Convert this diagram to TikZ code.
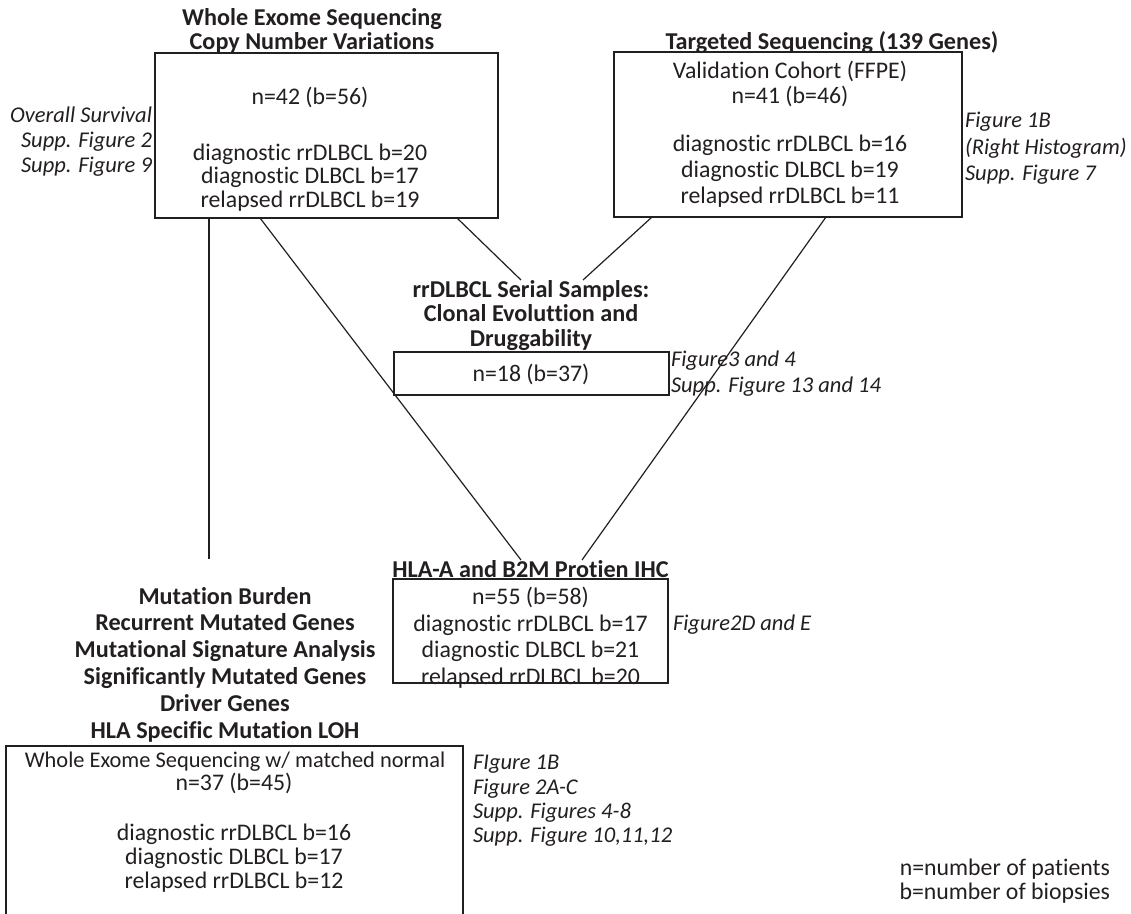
\documentclass[tikz,border=0pt]{standalone}
\usepackage{fontspec}
\setmainfont{Carlito}[Ligatures={NoCommon}]
\definecolor{ink}{HTML}{231F20}
\begin{document}
\begin{tikzpicture}[x=1pt,y=-1pt,
  every node/.style={inner sep=0pt, outer sep=0pt, text=ink},
  boxstyle/.style={draw=ink, line width=1.2pt, rectangle},
  conn/.style={draw=ink, line width=1.2pt},
  reg/.style={font=\fontsize{23.8}{25}\selectfont, anchor=base},
  hd/.style={font=\fontsize{24.2}{25}\selectfont\bfseries, anchor=base},
  itl/.style={font=\fontsize{22.5}{24}\selectfont\itshape, anchor=base west},
  itr/.style={font=\fontsize{22.5}{24}\selectfont\itshape, anchor=base east}]
\useasboundingbox (0,0) rectangle (1131,913);
\fill[white] (0,0) rectangle (1131,913);

% ---- Box 1: WES / CNV
\node[boxstyle, minimum width=343pt, minimum height=165pt] (b1) at (326.5,135.5) {};
\node[hd] (t1a) at (312,25) {Whole Exome Sequencing};
\node[hd] (t1b) at (312,49) {Copy Number Variations};
\node[reg] (b1l1) at (310,104) {n=42 (b=56)};
\node[reg] (b1l2) at (310,160) {diagnostic rrDLBCL b=20};
\node[reg] (b1l3) at (310,183) {diagnostic DLBCL b=17};
\node[reg] (b1l4) at (310,207) {relapsed rrDLBCL b=19};
\node[itr] (s1a) at (152,122) {Overall Survival};
\node[itr] (s1b) at (152,147) {Supp. Figure 2};
\node[itr] (s1c) at (152,172) {Supp. Figure 9};

% ---- Box 2: Targeted sequencing
\node[boxstyle, minimum width=348pt, minimum height=165pt] (b2) at (788,134.5) {};
\node[hd] (t2) at (832,49) {Targeted Sequencing (139 Genes)};
\node[reg] (b2l1) at (790,78) {Validation Cohort (FFPE)};
\node[reg] (b2l2) at (790,103) {n=41 (b=46)};
\node[reg] (b2l3) at (790,151) {diagnostic rrDLBCL b=16};
\node[reg] (b2l4) at (790,177) {diagnostic DLBCL b=19};
\node[reg] (b2l5) at (790,203) {relapsed rrDLBCL b=11};
\node[itl] (s2a) at (965,127) {Figure 1B};
\node[itl] (s2b) at (965,154) {(Right Histogram)};
\node[itl] (s2c) at (965,180) {Supp. Figure 7};

% ---- Box 3: serial samples
\node[hd] (t3a) at (531,297) {rrDLBCL Serial Samples:};
\node[hd] (t3b) at (531,321) {Clonal Evoluttion and};
\node[hd] (t3c) at (531,346) {Druggability};
\node[boxstyle, minimum width=275pt, minimum height=43pt] (b3) at (531.5,373.5) {};
\node[reg] (b3l1) at (531,381) {n=18 (b=37)};
\node[itl] (s3a) at (671,366) {Figure3 and 4};
\node[itl] (s3b) at (671,392) {Supp. Figure 13 and 14};

% ---- Box 4: HLA-A / B2M IHC
\node[hd] (t4) at (530.5,577) {HLA-A and B2M Protien IHC};
\node[boxstyle, minimum width=275pt, minimum height=104pt] (b4) at (530.5,631) {};
\node[reg] (b4l1) at (530.5,604) {n=55 (b=58)};
\node[reg] (b4l2) at (530.5,631) {diagnostic rrDLBCL b=17};
\node[reg] (b4l3) at (530.5,657) {diagnostic DLBCL b=21};
\node[reg] (b4l4) at (530.5,684) {relapsed rrDLBCL b=20};
\node[itl] (s4a) at (673,630) {Figure2D and E};

% ---- Analyses list
\node[hd] (m1) at (225,604) {Mutation Burden};
\node[hd] (m2) at (225,630) {Recurrent Mutated Genes};
\node[hd] (m3) at (225,657) {Mutational Signature Analysis};
\node[hd] (m4) at (225,684) {Significantly Mutated Genes};
\node[hd] (m5) at (225,711) {Driver Genes};
\node[hd] (m6) at (225,738) {HLA Specific Mutation LOH};

% ---- Box 5: WES with matched normal
\node[boxstyle, minimum width=457pt, minimum height=190pt] (b5) at (234.5,841) {};
\node[reg, font=\fontsize{22.4}{25}\selectfont] (b5l1) at (235,767) {Whole Exome Sequencing w/ matched normal};
\node[reg] (b5l2) at (234,790) {n=37 (b=45)};
\node[reg] (b5l3) at (234,840) {diagnostic rrDLBCL b=16};
\node[reg] (b5l4) at (234,864) {diagnostic DLBCL b=17};
\node[reg] (b5l5) at (234,888) {relapsed rrDLBCL b=12};
\node[itl] (s5a) at (473,769) {FIgure 1B};
\node[itl] (s5b) at (473,794) {Figure 2A-C};
\node[itl] (s5c) at (473,818) {Supp. Figures 4-8};
\node[itl] (s5d) at (473,842) {Supp. Figure 10,11,12};

% ---- legend
\node[reg, anchor=base east] (lg1) at (1110,875) {n=number of patients};
\node[reg, anchor=base east] (lg2) at (1110,899) {b=number of biopsies};

% ---- connectors
\coordinate (vend) at (209,559);
\coordinate (e1) at (521,280);
\coordinate (e2) at (583,280);
\coordinate (e3) at (521,560);
\coordinate (e4) at (582,560);
\draw[conn] ([xshift=54pt]b1.south west) -- (vend);
\draw[conn] ([xshift=105pt]b1.south west) -- (e3);
\draw[conn] ([xshift=302pt]b1.south west) -- (e1);
\draw[conn] ([xshift=38pt]b2.south west) -- (e2);
\draw[conn] ([xshift=212pt]b2.south west) -- (e4);
\end{tikzpicture}
\end{document}
